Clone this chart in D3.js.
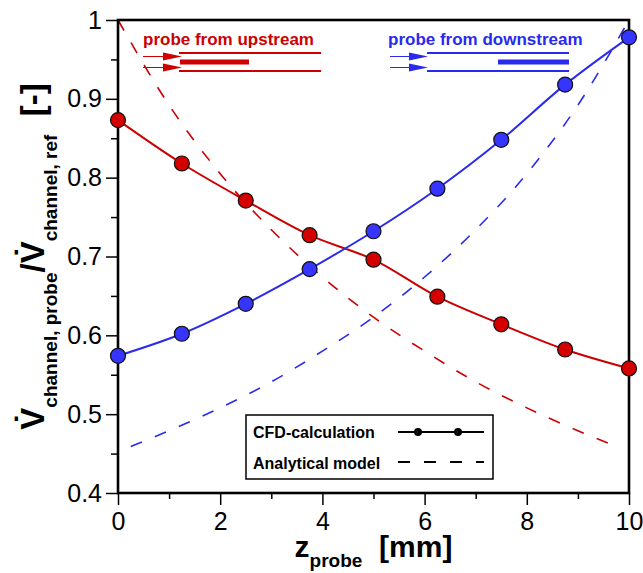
<!DOCTYPE html>
<html>
<head>
<meta charset="utf-8">
<script src="https://cdn.jsdelivr.net/npm/d3@7"></script>
<style>
  body { margin: 0; background: #fff; }
  text { font-family: "Liberation Sans", Arial, sans-serif; }
</style>
</head>
<body>
<svg width="643" height="573"></svg>
<script>
// CFD sample positions and results
var zCfd = [0, 1.25, 2.5, 3.75, 5, 6.25, 7.5, 8.75, 10];
var upstreamCfd = [0.873, 0.818, 0.771, 0.727, 0.696, 0.649, 0.614, 0.582, 0.558];
var downstreamCfd = [0.574, 0.602, 0.640, 0.684, 0.732, 0.786, 0.848, 0.918, 0.978];

// analytical model
var zUpModel = [0, 1, 2, 3, 4, 5, 6, 7, 8, 9, 9.75];
var upstreamModel = [1.0, 0.892, 0.805, 0.734, 0.674, 0.623, 0.580, 0.541, 0.508, 0.479, 0.459];
var zDownModel = [0.25, 1, 2, 3, 4, 5, 6, 7, 8, 9, 10];
var downstreamModel = [0.459, 0.479, 0.508, 0.541, 0.580, 0.623, 0.674, 0.734, 0.805, 0.892, 1.0];

var xTicks = [0, 2, 4, 6, 8, 10];
var xMinor = [1, 3, 5, 7, 9];
var yTicks = [0.4, 0.5, 0.6, 0.7, 0.8, 0.9, 1];
var yMinor = [0.45, 0.55, 0.65, 0.75, 0.85, 0.95];

var red = "#cc0000",
  blue = "#2a2aee";

var svg = d3.select("svg");
var mLeft = 118, mTop = 20, w = 511, h = 473;

var x = d3.scaleLinear().domain([0, 10]).range([mLeft, mLeft + w]);
var y = d3.scaleLinear().domain([0.4, 1]).range([mTop + h, mTop]);

// axes (ticks only, frame drawn separately)
var gy = svg.append("g").attr("transform", "translate(" + mLeft + ",0)")
  .call(d3.axisLeft(y).tickValues(yTicks).tickSize(12).tickPadding(4).tickFormat(d3.format("")));
var gyMinor = svg.append("g").attr("transform", "translate(" + mLeft + ",0)")
  .call(d3.axisLeft(y).tickValues(yMinor).tickSize(7).tickFormat(""));
var gx = svg.append("g").attr("transform", "translate(0," + (mTop + h) + ")")
  .call(d3.axisBottom(x).tickValues(xTicks).tickSize(12).tickPadding(7));
var gxMinor = svg.append("g").attr("transform", "translate(0," + (mTop + h) + ")")
  .call(d3.axisBottom(x).tickValues(xMinor).tickSize(6).tickFormat(""));

[gy, gyMinor, gx, gxMinor].forEach(function (g) {
  g.select(".domain").remove();
  g.selectAll("line").attr("stroke", "#000").attr("stroke-width", 1.5);
  g.selectAll("text").attr("font-size", 25).attr("fill", "#000")
    .style("font-family", "'Liberation Sans', Arial, sans-serif");
});

// analytical model
var line = d3.line()
  .x(function (d) { return x(d[0]); })
  .y(function (d) { return y(d[1]); })
  .curve(d3.curveMonotoneX);

svg.append("path")
  .datum(d3.zip(zUpModel, upstreamModel))
  .attr("d", line).attr("fill", "none")
  .attr("stroke", red).attr("stroke-width", 1.6).attr("stroke-dasharray", "12,14");
svg.append("path")
  .datum(d3.zip(zDownModel, downstreamModel))
  .attr("d", line).attr("fill", "none")
  .attr("stroke", blue).attr("stroke-width", 1.6).attr("stroke-dasharray", "12,14");

// frame
svg.append("rect")
  .attr("x", mLeft).attr("y", mTop).attr("width", w).attr("height", h)
  .attr("fill", "none").attr("stroke", "#000").attr("stroke-width", 2.6);

// CFD curves
var smooth = d3.line()
  .x(function (d) { return x(d[0]); })
  .y(function (d) { return y(d[1]); })
  .curve(d3.curveCatmullRom);

[[upstreamCfd, red, "#d40000"], [downstreamCfd, blue, "#3535ff"]].forEach(function (s) {
  var pts = d3.zip(zCfd, s[0]);
  svg.append("path").datum(pts).attr("d", smooth)
    .attr("fill", "none").attr("stroke", s[1]).attr("stroke-width", 2);
  svg.append("g").selectAll("circle").data(pts).enter().append("circle")
    .attr("cx", function (d) { return x(d[0]); })
    .attr("cy", function (d) { return y(d[1]); })
    .attr("r", 7.5)
    .attr("fill", s[2]).attr("stroke", "#111").attr("stroke-width", 1.2);
});

// probe sketches
function probe(g, color, textX, label, arrowX0, arrowX1, lineX0, lineX1, barX0, barX1) {
  g.append("text").attr("x", textX).attr("y", 45).attr("font-size", 17)
    .attr("font-weight", "bold").attr("fill", color).text(label);
  [53, 71].forEach(function (yy) {
    g.append("line").attr("x1", lineX0).attr("x2", lineX1).attr("y1", yy).attr("y2", yy)
      .attr("stroke", color).attr("stroke-width", 2);
  });
  g.append("line").attr("x1", barX0).attr("x2", barX1).attr("y1", 62).attr("y2", 62)
    .attr("stroke", color).attr("stroke-width", 5);
  [56.5, 67.5].forEach(function (yy) {
    g.append("line").attr("x1", arrowX0).attr("x2", arrowX1 - 16).attr("y1", yy).attr("y2", yy)
      .attr("stroke", color).attr("stroke-width", 1);
    g.append("path")
      .attr("d", "M" + (arrowX1 - 19) + "," + (yy - 4) + "L" + arrowX1 + "," + yy + "L" + (arrowX1 - 19) + "," + (yy + 4) + "Z")
      .attr("fill", color);
  });
}
var ann = svg.append("g");
probe(ann, red, 143, "probe from upstream", 143, 182, 179, 321, 180, 249);
probe(ann, blue, 388, "probe from downstream", 390, 428, 427, 569, 498, 569);

// legend
var lg = svg.append("g");
lg.append("rect").attr("x", 246).attr("y", 415).attr("width", 247).attr("height", 64)
  .attr("fill", "#fff").attr("stroke", "#000").attr("stroke-width", 1.5);
lg.append("text").attr("x", 253).attr("y", 438).attr("font-size", 16).attr("font-weight", "bold").text("CFD-calculation");
lg.append("text").attr("x", 253).attr("y", 469).attr("font-size", 16).attr("font-weight", "bold").text("Analytical model");
lg.append("line").attr("x1", 398).attr("x2", 484).attr("y1", 432).attr("y2", 432)
  .attr("stroke", "#000").attr("stroke-width", 2);
[418, 458].forEach(function (cx) {
  lg.append("circle").attr("cx", cx).attr("cy", 432).attr("r", 4).attr("fill", "#000");
});
lg.append("line").attr("x1", 398).attr("x2", 484).attr("y1", 462).attr("y2", 462)
  .attr("stroke", "#000").attr("stroke-width", 2).attr("stroke-dasharray", "12,14");

// x title
var xt = svg.append("text").attr("x", x(5)).attr("y", 557).attr("text-anchor", "middle")
  .attr("font-weight", "bold");
xt.append("tspan").attr("font-size", 30).text("z");
xt.append("tspan").attr("font-size", 19).attr("dy", 10).text("probe");
xt.append("tspan").attr("font-size", 30).attr("dy", -10).text("\u00a0\u00a0[mm]");

// y title
var yt = svg.append("text")
  .attr("transform", "translate(44," + y(0.7) + ") rotate(-90)")
  .attr("text-anchor", "middle").attr("font-weight", "bold");
yt.append("tspan").attr("font-size", 33).text("V\u0307");
yt.append("tspan").attr("font-size", 19).attr("dy", 13).text("channel, probe");
yt.append("tspan").attr("font-size", 33).attr("dy", -13).text("/");
yt.append("tspan").attr("font-size", 33).text("V\u0307");
yt.append("tspan").attr("font-size", 19).attr("dy", 13).text("channel, ref");
yt.append("tspan").attr("font-size", 33).attr("dy", -13).text("\u00a0\u00a0[-]");
</script>
</body>
</html>
